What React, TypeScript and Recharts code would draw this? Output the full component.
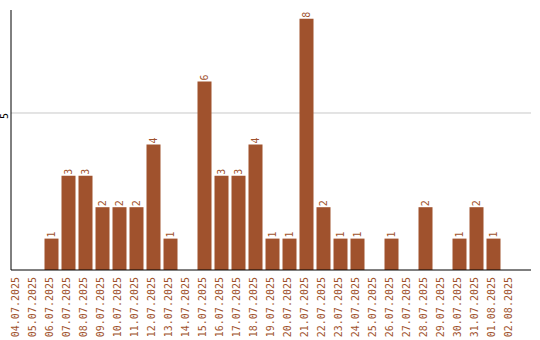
import { BarChart, Bar, XAxis, YAxis, CartesianGrid, LabelList } from "recharts"

const dates: string[] = [
	'04.07.2025', '05.07.2025', '06.07.2025', '07.07.2025', '08.07.2025', '09.07.2025',
	'10.07.2025', '11.07.2025', '12.07.2025', '13.07.2025', '14.07.2025', '15.07.2025',
	'16.07.2025', '17.07.2025', '18.07.2025', '19.07.2025', '20.07.2025', '21.07.2025',
	'22.07.2025', '23.07.2025', '24.07.2025', '25.07.2025', '26.07.2025', '27.07.2025',
	'28.07.2025', '29.07.2025', '30.07.2025', '31.07.2025', '01.08.2025', '02.08.2025',
]
const counts: number[] = [0, 0, 1, 3, 3, 2, 2, 2, 4, 1, 0, 6, 3, 3, 4, 1, 1, 8, 2, 1, 1, 0, 1, 0, 2, 0, 1, 2, 1, 0]
const yTicks: number[] = [5]
const Y_MAX = 8.28

const COLOR = '#A0522D'
const FONT = '"DejaVu Sans Mono", monospace'

const data = dates.map((d, i) => ({ idx: i, date: d, count: counts[i] }))
const xTicks = data.map(d => d.idx)

const DateTick = (props: any) => {
	const { x, y, payload } = props
	const cx = x - 2
	return (
		<text x={cx} y={y} transform={`rotate(-90, ${cx}, ${y})`} textAnchor="end" dy="0.35em"
			fill={COLOR} fontSize={10} fontFamily={FONT}>
			{dates[payload.value]}
		</text>
	)
}

const CountTick = (props: any) => {
	const { y, payload } = props
	return (
		<text x={8} y={y} transform={`rotate(-90, 8, ${y})`} textAnchor="end"
			fill="#000" fontSize={10} fontFamily={FONT}>
			{payload.value}
		</text>
	)
}

const ValueLabel = (props: any) => {
	const { x, y, width, value } = props
	if (!value) return null
	const cx = x + width / 2
	const ty = y - 1
	return (
		<text x={cx} y={ty} transform={`rotate(-90, ${cx}, ${ty})`} textAnchor="start" dy="0.35em"
			fill={COLOR} fontSize={10} fontFamily={FONT}>
			{value}
		</text>
	)
}

// only the gridline at the y ticks, no line at the top edge
const gridRows = ({ offset }: any) =>
	yTicks.map(t => offset.top + offset.height * (1 - t / Y_MAX))

export default function App() {
	return (
		<div style={{ position: 'absolute', left: 0, top: 0, background: '#fff' }}>
			<BarChart width={540} height={340} data={data} margin={{ top: 10, right: 9, bottom: 0, left: 0 }}>
				<CartesianGrid vertical={false} stroke="#c8c8c8" horizontalCoordinatesGenerator={gridRows} />
				<XAxis
					type="number"
					dataKey="idx"
					domain={[-0.353, 30.235]}
					allowDataOverflow
					ticks={xTicks}
					interval={0}
					height={70}
					tickLine={false}
					tickSize={0}
					tickMargin={7}
					axisLine={{ stroke: '#000' }}
					tick={<DateTick />}
				/>
				<YAxis
					width={11}
					domain={[0, Y_MAX]}
					ticks={yTicks}
					allowDataOverflow
					tickLine={false}
					axisLine={{ stroke: '#000' }}
					tick={<CountTick />}
				/>
				<Bar dataKey="count" fill={COLOR} barSize={14} isAnimationActive={false}>
					<LabelList dataKey="count" content={<ValueLabel />} />
				</Bar>
			</BarChart>
		</div>
	)
}
